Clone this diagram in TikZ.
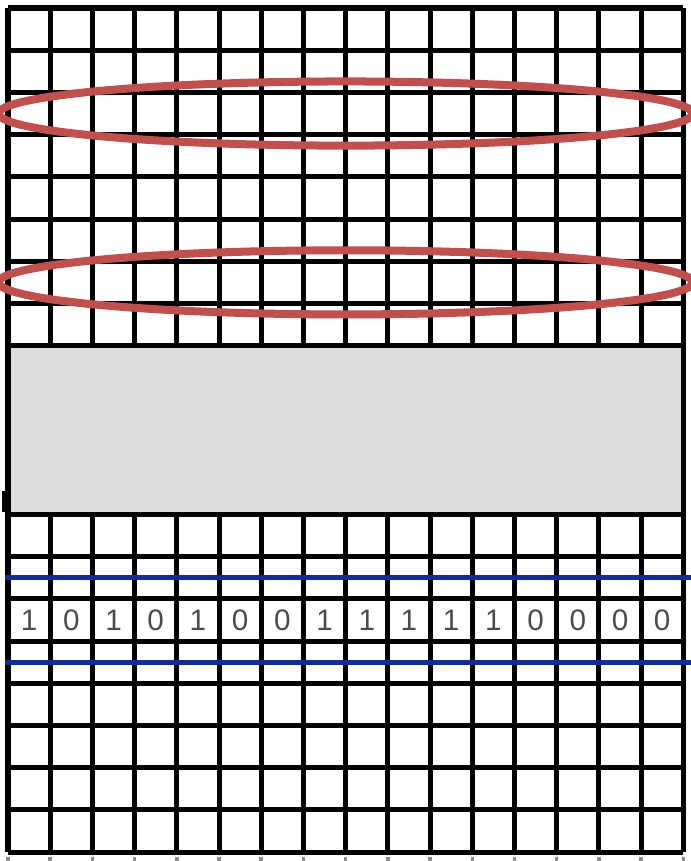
\documentclass[tikz,border=0pt]{standalone}
\usepackage{fontspec}
\setmainfont{Liberation Sans}
\definecolor{blockgray}{HTML}{DCDCDC}
\definecolor{ringred}{HTML}{C0504D}
\definecolor{rowblue}{HTML}{102A96}
\tikzset{
  cellline/.style={line width=3.4pt},
  bitdigit/.style={text=black!70, font=\fontsize{20}{20}\selectfont, inner sep=0pt},
  ring/.style={draw=ringred, line width=5.4pt},
  rowmark/.style={draw=rowblue, line width=3.2pt}
}
\begin{document}
\begin{tikzpicture}[scale=1.0]
\useasboundingbox (-0.19,-0.21) rectangle (16.18,20.19);
\clip (-0.19,-0.21) rectangle (16.18,20.19);

% grid, lower part
\foreach \y in {0,...,8} \draw[cellline] (0,\y) -- (16,\y);
\foreach \x in {0,...,16} \draw[cellline] (\x,0) -- (\x,8);
% grid, upper part
\foreach \y in {12,...,20} \draw[cellline] (0,\y) -- (16,\y);
\foreach \x in {0,...,16} \draw[cellline] (\x,12) -- (\x,20);
% next row just showing below
\foreach \x in {0,...,16} \draw[line width=2.4pt, black!45] (\x,-0.12) -- (\x,-0.3);

\draw[cellline, fill=blockgray] (0,8) rectangle (16,12);
\draw[line width=3pt] (-0.09,8.05) -- (-0.09,8.55);

% bits
\foreach \b [count=\i] in {1,0,1,0,1,0,0,1,1,1,1,1,0,0,0,0}
  \node[bitdigit] (d\i) at (\i-0.5,5.5) {\b};

\draw[rowmark] (-0.07,6.5) -- (16.4,6.5);
\draw[rowmark] (-0.07,4.5) -- (16.4,4.5);

\draw[ring] (8,17.5) ellipse (8.22 and 0.76);
\draw[ring] (8,13.5) ellipse (8.22 and 0.76);
\end{tikzpicture}
\end{document}
